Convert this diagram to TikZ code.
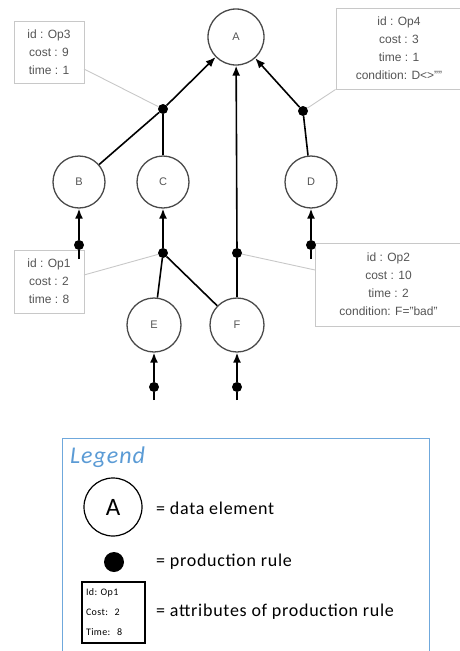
\documentclass[tikz,border=0pt]{standalone}
\usepackage{fontspec}
\setmainfont{Liberation Sans}
\newfontfamily\legendfont[LetterSpace=4]{Carlito}
\usetikzlibrary{arrows.meta}
\definecolor{ringgray}{HTML}{4A4A4A}
\definecolor{labelgray}{HTML}{555555}
\definecolor{notegray}{HTML}{C8C8C8}
\definecolor{legendblue}{HTML}{6FA8DC}
\definecolor{legendtitle}{HTML}{5B9BD5}
\tikzset{
  data/.style={circle, draw=ringgray, line width=1.3pt, fill=white, minimum size=52pt, inner sep=0pt,
    font=\fontsize{11}{13}\selectfont, text=labelgray},
  rule/.style={circle, fill=black, minimum size=10pt, inner sep=0pt},
  link/.style={line width=1.6pt, black},
  feed/.style={link, -{Latex[length=10pt,width=8pt]}},
  attr/.style={draw=notegray, line width=1pt, fill=white, inner sep=0pt, align=center,
    font=\fontsize{12}{18}\selectfont, text=labelgray},
  tie/.style={draw=notegray, line width=0.9pt},
  legtext/.style={anchor=west, font=\legendfont\fontsize{18}{20}\selectfont, inner sep=0pt},
}
\begin{document}
\begin{tikzpicture}[x=1pt,y=-1pt]
\useasboundingbox (0,0) rectangle (459,651);

% attribute boxes
\node[attr, minimum width=70pt, minimum height=62pt] (o3) at (49,52)
  {id : Op3\\cost : 9\\time : 1};
\node[attr, minimum width=126pt, minimum height=81pt] (o4) at (399,48.5)
  {id : Op4\\cost : 3\\time : 1\\condition: D<>""};
\node[attr, minimum width=70pt, minimum height=63pt] (o1) at (49,281.5)
  {id : Op1\\cost : 2\\time : 8};
\node[attr, minimum width=147pt, minimum height=83pt] (o2) at (388.5,284.5)
  {id : Op2\\cost : 10\\time : 2\\condition: F="bad"};

% data elements
\node[data, minimum size=56pt] (A) at (236,37) {A};
\node[data] (B) at (79,182) {B};
\node[data] (C) at (163,182) {C};
\node[data] (D) at (311,182) {D};
\node[data, minimum size=54pt] (E) at (154,325) {E};
\node[data, minimum size=54pt] (F) at (237,325) {F};

% production rules
\node[rule] (p3) at (163,109) {};
\node[rule] (p4) at (303,111) {};
\node[rule] (pB) at (79,245) {};
\node[rule] (pC) at (163,253) {};
\node[rule] (pF) at (237,253) {};
\node[rule] (pD) at (311,245) {};
\node[rule] (pE) at (154,387) {};
\node[rule] (pF2) at (237,387) {};

% loose inputs of the leaf rules
\coordinate (sB) at (79,259);
\coordinate (sD) at (311,259);
\coordinate (sE) at (154,400);
\coordinate (sF) at (237,400);

% ties from attribute boxes to their rules
\draw[tie] (84,69) -- (p3);
\draw[tie] (o4.south west) -- (p4);
\draw[tie] (84,275) -- (pC);
\draw[tie] (315,270) -- (pF);

% rule inputs and outputs
\draw[feed] (p3) -- (A);
\draw[link] (B) -- (p3);
\draw[link] (C) -- (p3);
\draw[feed] (p4) -- (A);
\draw[link] (D) -- (p4);
\draw[feed] (pF) -- (A);
\draw[link] (F) -- (pF);
\draw[feed] (pC) -- (C);
\draw[link] (E) -- (pC);
\draw[link] (F) -- (pC);
\draw[feed] (pB) -- (B);
\draw[link] (sB) -- (pB);
\draw[feed] (pD) -- (D);
\draw[link] (sD) -- (pD);
\draw[feed] (pE) -- (E);
\draw[link] (sE) -- (pE);
\draw[feed] (pF2) -- (F);
\draw[link] (sF) -- (pF2);

% legend
\draw[legendblue, line width=1pt] (62,670) -- (62,438) -- (429,438) -- (429,670);
\node[anchor=west, inner sep=0pt, text=legendtitle,
  font=\legendfont\itshape\fontsize{24}{26}\selectfont] (lt) at (70,457) {Legend};
\node[circle, draw=black, line width=1.2pt, minimum size=58pt, inner sep=0pt,
  font=\legendfont\fontsize{25}{26}\selectfont] (lA) at (113,507) {A};
\node[legtext] (l1) at (156,508) {= data element};
\node[circle, fill=black, minimum size=20pt, inner sep=0pt] (ld) at (114,562) {};
\node[legtext] (l2) at (156,562) {= production rule};
\node[draw=black, line width=1.2pt, minimum width=63pt, minimum height=61pt, inner xsep=4pt,
  text width=55pt, align=left, font=\legendfont\fontsize{10}{20}\selectfont] (lb) at (113.5,612.5)
  {Id:~Op1\\Cost:~~2\\Time:~~8};
\node[legtext] (l3) at (156,612) {= attributes of production rule};
\end{tikzpicture}
\end{document}
